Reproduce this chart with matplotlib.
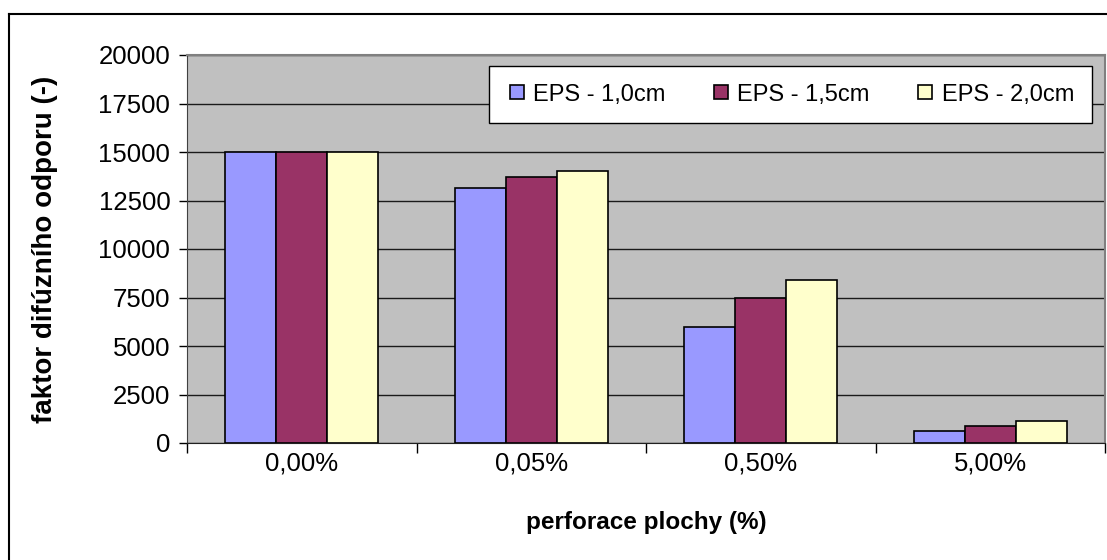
import matplotlib.pyplot as plt
import numpy as np
from matplotlib.lines import Line2D

plt.rcParams['font.family'] = ['Liberation Sans', 'DejaVu Sans']

categories = ["0,00%", "0,05%", "0,50%", "5,00%"]
series_names = ["EPS - 1,0cm", "EPS - 1,5cm", "EPS - 2,0cm"]
eps_10 = [15000, 13150, 6000, 600]
eps_15 = [15000, 13700, 7500, 900]
eps_20 = [15000, 14000, 8400, 1150]
colors = ["#9999FF", "#993366", "#FFFFCC"]

fig = plt.figure(figsize=(11.07, 5.6), dpi=100)
ax = fig.add_axes([187/1107, 117/560, 918/1107, 388/560])
ax.set_facecolor("#C0C0C0")

x = np.arange(len(categories))
w = 1/4.5
for i, (vals, c) in enumerate(zip([eps_10, eps_15, eps_20], colors)):
    ax.bar(x + (i-1)*w, vals, width=w, color=c, edgecolor="black", linewidth=1.2, zorder=3)

ax.set_xlim(-0.5, 3.5)
ax.set_ylim(0, 20000)
ax.set_yticks(np.arange(0, 20001, 2500))
ax.yaxis.grid(True, color="#1a1a1a", linewidth=1)
ax.set_axisbelow(True)

ax.set_xticks(x)
ax.set_xticklabels(categories, fontsize=18.5)
ax.tick_params(axis='x', length=0, pad=6)
ax.set_xticks(np.arange(-0.5, 4, 1), minor=True)
ax.tick_params(axis='x', which='minor', length=7, width=1, color="black")
ax.tick_params(axis='y', labelsize=18.5, length=6, width=1, pad=6)

for s in ["top", "right"]:
    ax.spines[s].set_color("#808080")
    ax.spines[s].set_linewidth(1.5)
ax.spines["left"].set_color("#404040")
ax.spines["bottom"].set_color("#202020")

ax.set_ylabel("faktor difúzního odporu (-)", fontsize=20, fontweight="bold")
ax.yaxis.set_label_coords(-0.140, 0.5)
ax.set_xlabel("perforace plochy (%)", fontsize=17.5, fontweight="bold")
ax.xaxis.set_label_coords(0.5, -0.174)

handles = [Line2D([0], [0], marker="s", linestyle="", markersize=10,
                  markerfacecolor=c, markeredgecolor="black", markeredgewidth=1.2) for c in colors]
leg = ax.legend(handles, series_names, loc="upper right", ncol=3, fontsize=17,
                bbox_to_anchor=(0.9858, 0.9716), frameon=True, fancybox=False,
                handletextpad=0.3, columnspacing=1.95, borderpad=0.75, handlelength=0.8,
                borderaxespad=0)
leg.get_frame().set_edgecolor("black")
leg.get_frame().set_linewidth(1)
leg.get_frame().set_facecolor("white")
leg.get_frame().set_alpha(1)

# outer chart border (top and left visible)
fig.add_artist(Line2D([9/1107, 9/1107], [0, 1 - 14/560], transform=fig.transFigure, color="black", linewidth=1.5))
fig.add_artist(Line2D([9/1107, 1], [1 - 14/560, 1 - 14/560], transform=fig.transFigure, color="black", linewidth=1.5))

plt.savefig("out.png", dpi=100)
